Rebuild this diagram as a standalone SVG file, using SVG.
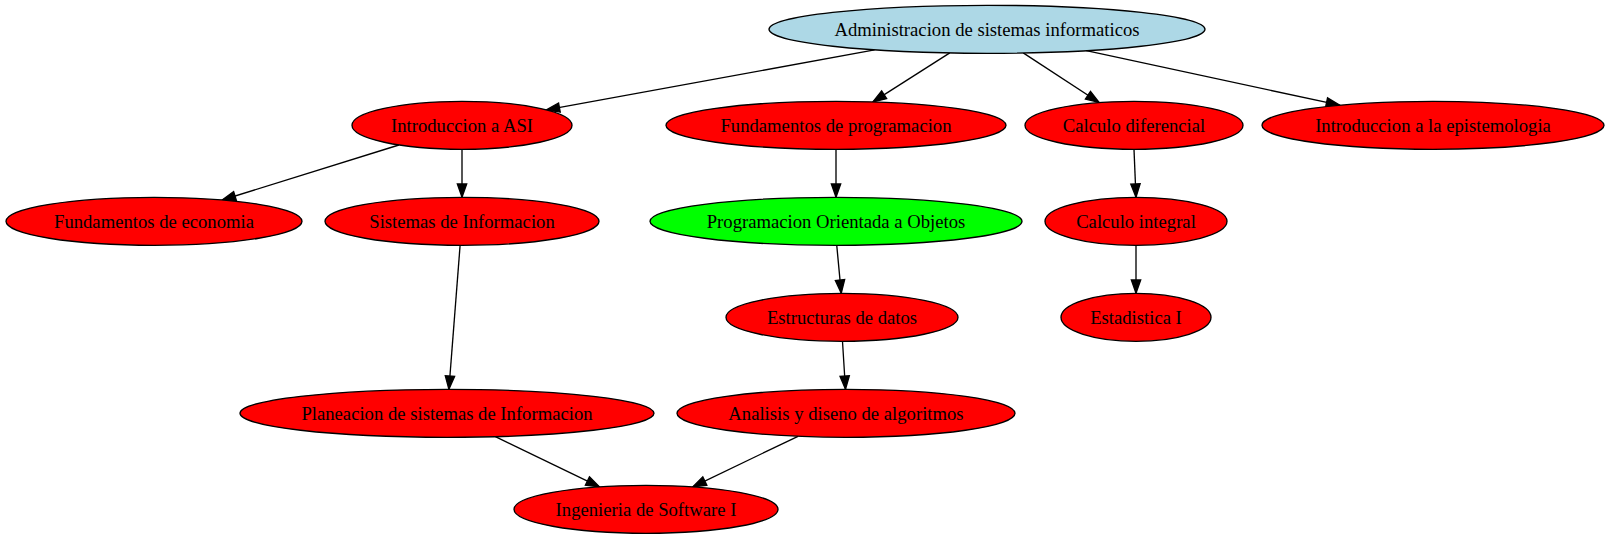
<svg xmlns="http://www.w3.org/2000/svg" width="1608" height="539" viewBox="0 0 1608 539">
<style>
  .n ellipse { stroke: #000; stroke-width: 1.33; }
  .red ellipse { fill: #ff0000; }
  .blue ellipse { fill: #add8e6; }
  .green ellipse { fill: #00ff00; }
  .n text { font-family: "Liberation Serif", "Times New Roman", serif; font-size: 18.67px; text-anchor: middle; fill: #000; }
  #edges line { stroke: #000; stroke-width: 1.33; fill: none; marker-end: url(#arr); }
</style>
<defs>
  <marker id="arr" markerUnits="userSpaceOnUse" markerWidth="14" markerHeight="10" refX="13.33" refY="4.67" orient="auto" overflow="visible">
    <path d="M0,0 L13.33,4.67 L0,9.33 Z" fill="#000" stroke="#000" stroke-width="1.33"/>
  </marker>
</defs>
<rect width="1608" height="539" fill="#fff"/>
<g id="edges">
  <line x1="874.6" y1="49.9" x2="546.3" y2="109.9"/>
  <line x1="949.8" y1="52.9" x2="872.9" y2="101.9"/>
  <line x1="1023.2" y1="52.9" x2="1099.1" y2="102.5"/>
  <line x1="1086.3" y1="50.7" x2="1339.6" y2="105.2"/>
  <line x1="398.9" y1="145.0" x2="222.3" y2="200.0"/>
  <line x1="462" y1="149.3" x2="462" y2="197.3"/>
  <line x1="836" y1="149.3" x2="836" y2="197.3"/>
  <line x1="1134" y1="149.3" x2="1136" y2="197.3"/>
  <line x1="460.1" y1="245.3" x2="448.9" y2="389.3"/>
  <line x1="836.75" y1="245.3" x2="841.25" y2="293.3"/>
  <line x1="1136" y1="245.3" x2="1136" y2="293.3"/>
  <line x1="842.5" y1="341.3" x2="845.5" y2="389.3"/>
  <line x1="495.4" y1="436.6" x2="599.4" y2="486.8"/>
  <line x1="798.0" y1="436.3" x2="692.8" y2="486.8"/>
</g>
<g id="n_root" class="n blue"><ellipse cx="987" cy="29.3" rx="218" ry="24"/><text x="987" y="36.3">Administracion de sistemas informaticos</text></g>
<g id="n_intro_asi" class="n red"><ellipse cx="462" cy="125.3" rx="110" ry="24"/><text x="462" y="132.3">Introduccion a ASI</text></g>
<g id="n_fund_prog" class="n red"><ellipse cx="836" cy="125.3" rx="170" ry="24"/><text x="836" y="132.3">Fundamentos de programacion</text></g>
<g id="n_calc_dif" class="n red"><ellipse cx="1134" cy="125.3" rx="109" ry="24"/><text x="1134" y="132.3">Calculo diferencial</text></g>
<g id="n_epist" class="n red"><ellipse cx="1433" cy="125.3" rx="171" ry="24"/><text x="1433" y="132.3">Introduccion a la epistemologia</text></g>
<g id="n_fund_econ" class="n red"><ellipse cx="154" cy="221.3" rx="148" ry="24"/><text x="154" y="228.3">Fundamentos de economia</text></g>
<g id="n_sist_info" class="n red"><ellipse cx="462" cy="221.3" rx="137" ry="24"/><text x="462" y="228.3">Sistemas de Informacion</text></g>
<g id="n_poo" class="n green"><ellipse cx="836" cy="221.3" rx="186" ry="24"/><text x="836" y="228.3">Programacion Orientada a Objetos</text></g>
<g id="n_calc_int" class="n red"><ellipse cx="1136" cy="221.3" rx="91" ry="24"/><text x="1136" y="228.3">Calculo integral</text></g>
<g id="n_estruct" class="n red"><ellipse cx="842" cy="317.3" rx="116" ry="24"/><text x="842" y="324.3">Estructuras de datos</text></g>
<g id="n_estad" class="n red"><ellipse cx="1136" cy="317.3" rx="75" ry="24"/><text x="1136" y="324.3">Estadistica I</text></g>
<g id="n_planea" class="n red"><ellipse cx="447" cy="413.3" rx="207" ry="24"/><text x="447" y="420.3">Planeacion de sistemas de Informacion</text></g>
<g id="n_analisis" class="n red"><ellipse cx="846" cy="413.3" rx="169" ry="24"/><text x="846" y="420.3">Analisis y diseno de algoritmos</text></g>
<g id="n_ingsoft" class="n red"><ellipse cx="646" cy="509.3" rx="132" ry="24"/><text x="646" y="516.3">Ingenieria de Software I</text></g>
</svg>
